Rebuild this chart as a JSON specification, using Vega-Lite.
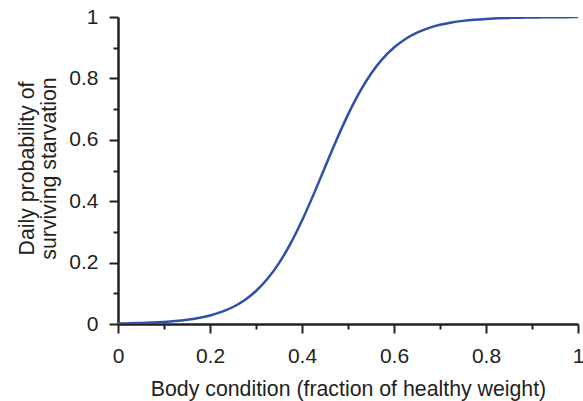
{
  "$schema": "https://vega.github.io/schema/vega-lite/v6.json",
  "width": 460,
  "height": 307,
  "autosize": {"type": "none"},
  "padding": {"left": 118, "top": 17, "right": 5, "bottom": 77},
  "background": "white",
  "config": {
    "view": {"stroke": null},
    "axis": {
      "domainColor": "#231f20",
      "domainWidth": 2.5,
      "tickColor": "#231f20",
      "tickWidth": 2,
      "grid": false,
      "labelFont": "Liberation Sans",
      "labelFontSize": 21,
      "labelColor": "#231f20",
      "titleFont": "Liberation Sans",
      "titleFontSize": 21.3,
      "titleFontWeight": "normal",
      "titleColor": "#231f20"
    }
  },
  "data": {
    "values": [
      {"x": 0.0, "y": 0.0016},
      {"x": 0.025, "y": 0.0023},
      {"x": 0.05, "y": 0.0033},
      {"x": 0.075, "y": 0.0047},
      {"x": 0.1, "y": 0.0067},
      {"x": 0.125, "y": 0.0096},
      {"x": 0.15, "y": 0.0137},
      {"x": 0.175, "y": 0.0195},
      {"x": 0.2, "y": 0.0277},
      {"x": 0.225, "y": 0.0393},
      {"x": 0.25, "y": 0.0554},
      {"x": 0.275, "y": 0.0775},
      {"x": 0.3, "y": 0.1074},
      {"x": 0.325, "y": 0.1472},
      {"x": 0.35, "y": 0.1983},
      {"x": 0.375, "y": 0.2617},
      {"x": 0.4, "y": 0.3369},
      {"x": 0.425, "y": 0.4214},
      {"x": 0.45, "y": 0.5107},
      {"x": 0.475, "y": 0.5994},
      {"x": 0.5, "y": 0.682},
      {"x": 0.525, "y": 0.7545},
      {"x": 0.55, "y": 0.815},
      {"x": 0.575, "y": 0.8634},
      {"x": 0.6, "y": 0.9005},
      {"x": 0.625, "y": 0.9284},
      {"x": 0.65, "y": 0.9489},
      {"x": 0.675, "y": 0.9638},
      {"x": 0.7, "y": 0.9745},
      {"x": 0.725, "y": 0.9821},
      {"x": 0.75, "y": 0.9874},
      {"x": 0.775, "y": 0.9912},
      {"x": 0.8, "y": 0.9938},
      {"x": 0.825, "y": 0.9957},
      {"x": 0.85, "y": 0.997},
      {"x": 0.875, "y": 0.9979},
      {"x": 0.9, "y": 0.9985},
      {"x": 0.925, "y": 0.999},
      {"x": 0.95, "y": 0.9993},
      {"x": 0.975, "y": 0.9995},
      {"x": 1.0, "y": 0.9997}
    ]
  },
  "mark": {"type": "line", "color": "#2f4fa8", "strokeWidth": 2.5, "interpolate": "monotone", "clip": true},
  "encoding": {
    "x": {
      "field": "x",
      "type": "quantitative",
      "scale": {"domain": [0, 1], "nice": false, "zero": false},
      "axis": {
        "title": "Body condition (fraction of healthy weight)",
        "values": [0, 0.1, 0.2, 0.3, 0.4, 0.5, 0.6, 0.7, 0.8, 0.9, 1],
        "tickSize": {"condition": {"test": "round(datum.value*10) % 2 == 0", "value": 9}, "value": 5},
        "labelExpr": "round(datum.value*10) % 2 == 0 ? format(datum.value, '~g') : ''",
        "labelBaseline": "alphabetic",
        "labelPadding": 29,
        "labelFlush": false,
        "labelOverlap": false,
        "titleBaseline": "alphabetic",
        "titleY": 71,
        "titleX": 230,
        "titleAnchor": "middle",
        "titleAlign": "center"
      }
    },
    "y": {
      "field": "y",
      "type": "quantitative",
      "scale": {"domain": [0, 1], "nice": false, "zero": false},
      "axis": {
        "title": ["Daily probability of", "surviving starvation"],
        "values": [0, 0.1, 0.2, 0.3, 0.4, 0.5, 0.6, 0.7, 0.8, 0.9, 1],
        "tickSize": {"condition": {"test": "round(datum.value*10) % 2 == 0", "value": 9}, "value": 5},
        "labelExpr": "round(datum.value*10) % 2 == 0 ? format(datum.value, '~g') : ''",
        "labelBaseline": "middle",
        "labelPadding": 11,
        "labelFlush": false,
        "labelOverlap": false,
        "titleAngle": -90,
        "titleBaseline": "alphabetic",
        "titleAlign": "center",
        "titleLineHeight": 22,
        "titleX": -85,
        "titleY": 151
      }
    }
  }
}
